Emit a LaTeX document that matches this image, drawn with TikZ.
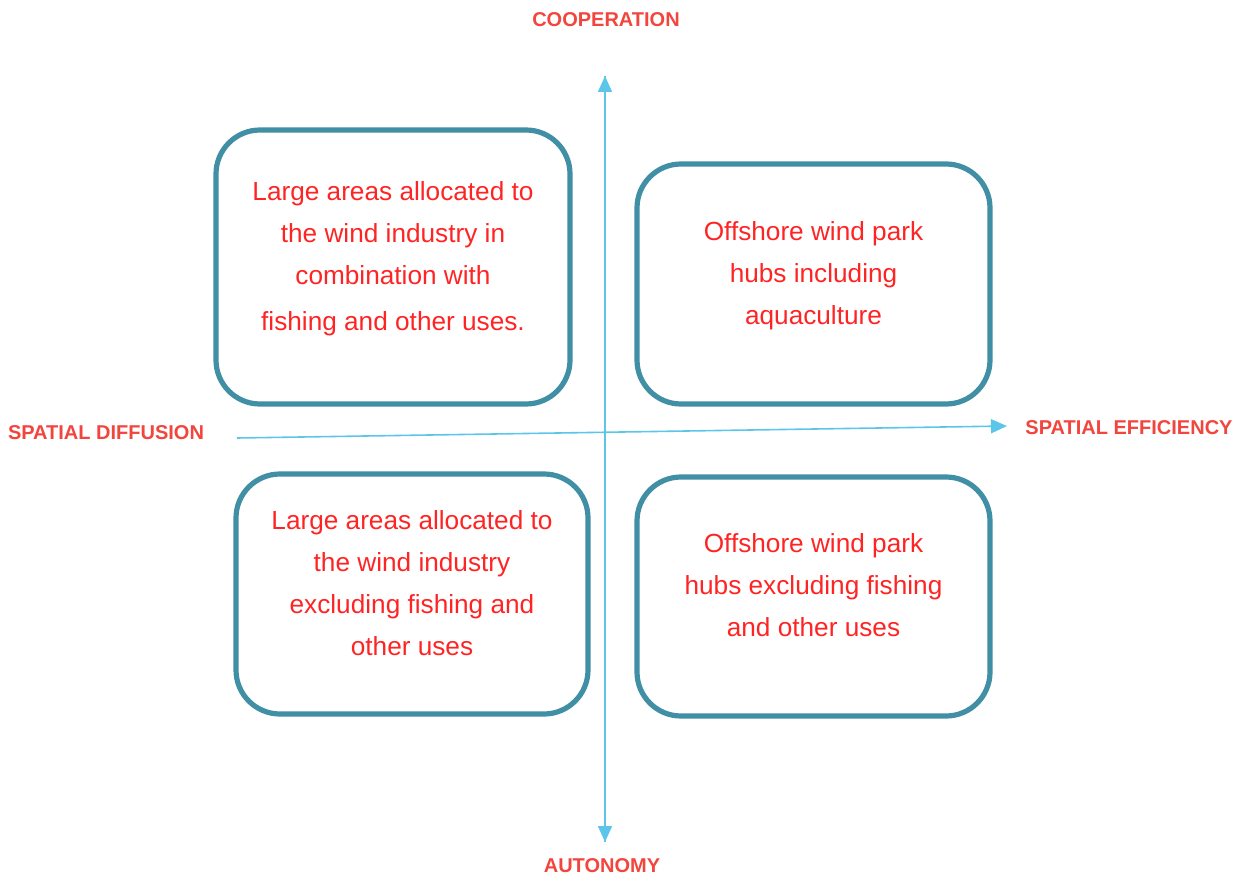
\documentclass[tikz,border=0pt]{standalone}
\usepackage{fontspec}
\setmainfont{Liberation Sans}
\usetikzlibrary{arrows.meta}
\definecolor{boxteal}{HTML}{418FA5}
\definecolor{axisblue}{HTML}{5BC6EA}
\definecolor{labelred}{HTML}{F2453D}
\definecolor{textred}{HTML}{FF2424}
\newcommand{\lift}{\\[-10pt]\mbox{}}
\tikzset{
  quad/.style={draw=boxteal, line width=2.6pt, rounded corners=22pt, align=center,
    text=textred, font=\fontsize{13.1}{21}\selectfont, inner sep=0pt},
  axislabel/.style={text=labelred, font=\fontsize{10}{12}\selectfont\bfseries, inner sep=0pt},
  axis/.style={draw=axisblue, line width=0.8pt, -{Triangle[length=8pt,width=7pt]}}
}
\begin{document}
\begin{tikzpicture}[x=0.5pt,y=-0.5pt]
\useasboundingbox (0,0) rectangle (1241,877);
\node[axislabel] (coop) at (606,20) {COOPERATION};
\node[axislabel] (auto) at (602,866) {AUTONOMY};
\node[axislabel] (diff) at (106,433) {SPATIAL DIFFUSION};
\node[axislabel] (eff) at (1129,428) {SPATIAL EFFICIENCY};
\coordinate (top) at (605,76);
\coordinate (bot) at (605,842);
\coordinate (left) at (237,438);
\coordinate (right) at (1007,426);
\draw[axis] (bot) -- (top);
\draw[axis] (top) -- (bot);
\draw[axis] (left) -- (right);
\node[quad, minimum width=354*0.5pt, minimum height=274*0.5pt] (tl) at (393,267)
  {Large areas allocated to\\the wind industry in\\combination with\\[2pt]fishing and other uses.\lift};
\node[quad, minimum width=353*0.5pt, minimum height=240*0.5pt] (tr) at (813.5,284)
  {Offshore wind park\\hubs including\\aquaculture\lift};
\node[quad, minimum width=352*0.5pt, minimum height=240*0.5pt] (bl) at (412,594)
  {Large areas allocated to\\the wind industry\\excluding fishing and\\other uses\lift};
\node[quad, minimum width=353*0.5pt, minimum height=239*0.5pt] (br) at (813.5,596.5)
  {Offshore wind park\\hubs excluding fishing\\and other uses\lift};
\end{tikzpicture}
\end{document}
